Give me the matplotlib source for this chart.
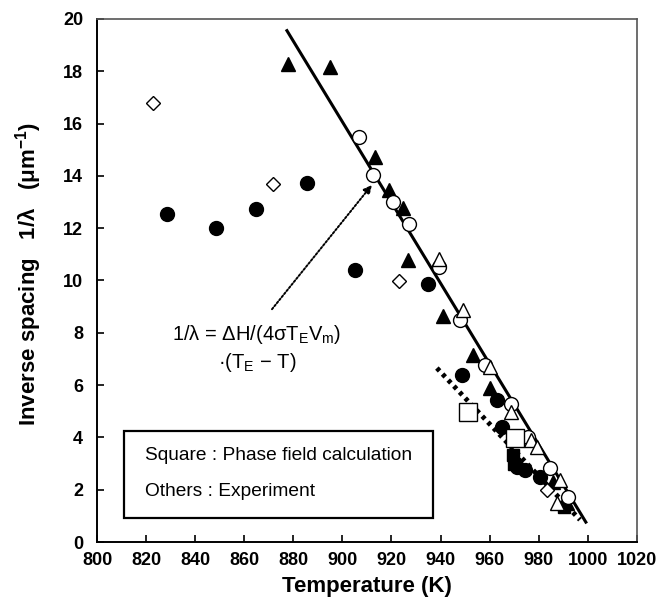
import matplotlib
matplotlib.use("Agg")
import matplotlib.pyplot as plt
from matplotlib.patches import Rectangle

plt.rcParams['font.family'] = ['Liberation Sans', 'DejaVu Sans']
plt.rcParams['mathtext.fontset'] = 'custom'
plt.rcParams['mathtext.rm'] = 'Liberation Sans'
plt.rcParams['mathtext.it'] = 'Liberation Sans'
plt.rcParams['mathtext.bf'] = 'Liberation Sans:bold'

# ---- data ----
filled_tri_T = [877.8, 894.9, 913.3, 919.1, 924.5, 926.8, 940.8, 953.3, 960.1, 986.0, 991.5]
filled_tri_v = [18.28, 18.16, 14.73, 13.46, 12.76, 10.80, 8.64, 7.15, 5.88, 2.30, 1.50]

open_circ_T = [906.7, 912.6, 920.7, 927.2, 939.3, 947.9, 958.1, 968.9, 975.7, 984.6, 992.0]
open_circ_v = [15.50, 14.03, 13.01, 12.15, 10.50, 8.49, 6.77, 5.28, 4.00, 2.82, 1.73]

filled_circ_T = [828.6, 848.5, 864.8, 885.7, 905.0, 935.0, 948.6, 962.8, 964.9, 971.0, 974.4, 980.5]
filled_circ_v = [12.53, 12.02, 12.72, 13.72, 10.40, 9.85, 6.39, 5.43, 4.39, 2.88, 2.75, 2.50]

open_diam_T = [822.7, 871.8, 923.0, 983.2]
open_diam_v = [16.80, 13.68, 9.99, 1.99]

open_tri_T = [939.3, 949.2, 960.1, 968.9, 977.0, 979.1, 988.6, 987.3]
open_tri_v = [10.81, 8.87, 6.70, 4.98, 3.90, 3.64, 2.37, 1.48]

filled_sq_T = [969.6, 970.0, 990.5]
filled_sq_v = [3.33, 3.00, 1.35]

open_sq_T = [951.3, 970.3]
open_sq_v = [4.98, 3.97]

fit_T = [877.4, 999.2]
fit_v = [19.55, 0.76]

calc_fit_T = [938.5, 996.8]
calc_fit_v = [6.65, 0.85]

arrow_start = (871.3, 8.9)
arrow_tip = (912.0, 13.65)

x_ticks = [800, 820, 840, 860, 880, 900, 920, 940, 960, 980, 1000, 1020]
y_ticks = [0, 2, 4, 6, 8, 10, 12, 14, 16, 18, 20]

# ---- figure ----
fig = plt.figure(figsize=(6.69, 6.09), dpi=100)
ax = fig.add_axes([0.145, 0.110, 0.807, 0.859])

ax.plot(fit_T, fit_v, color='black', lw=2.2, zorder=2)
ax.plot(calc_fit_T, calc_fit_v, color='black', lw=3.5, linestyle=(0, (0.8, 0.9)), zorder=2)

ms = 10
ax.plot(filled_circ_T, filled_circ_v, 'o', ms=ms, mfc='black', mec='black', ls='none', zorder=3)
ax.plot(filled_tri_T, filled_tri_v, '^', ms=ms, mfc='black', mec='black', ls='none', zorder=3)
ax.plot(filled_sq_T, filled_sq_v, 's', ms=9, mfc='black', mec='black', ls='none', zorder=3)
ax.plot(open_circ_T, open_circ_v, 'o', ms=ms, mfc='white', mec='black', mew=1.0, ls='none', zorder=4)
ax.plot(open_tri_T, open_tri_v, '^', ms=ms, mfc='white', mec='black', mew=1.0, ls='none', zorder=4)
ax.plot(open_diam_T, open_diam_v, 'D', ms=7.5, mfc='white', mec='black', mew=1.0, ls='none', zorder=4)
ax.plot(open_sq_T, open_sq_v, 's', ms=13, mfc='white', mec='black', mew=1.0, ls='none', zorder=5)

# arrow (dotted shaft + head)
ax.annotate('', xy=arrow_tip, xytext=arrow_start,
            arrowprops=dict(arrowstyle='-|>', color='black', lw=1.4,
                            linestyle=(0, (1, 1)), mutation_scale=12,
                            shrinkA=0, shrinkB=0))

ax.text(865.2, 7.4, "1/λ = ΔH/(4σT$_\\mathrm{E}$V$_\\mathrm{m}$)\n·(T$_\\mathrm{E}$ − T)",
        ha='center', va='center', fontsize=14.5, linespacing=1.3)

# box with text
ax.add_patch(Rectangle((811, 0.92), 936.9 - 811, 4.24 - 0.92, fill=False,
                       edgecolor='black', lw=1.6, zorder=1))
ax.text(819.6, 3.29, "Square : Phase field calculation", ha='left', va='center', fontsize=13.8)
ax.text(819.6, 1.95, "Others : Experiment", ha='left', va='center', fontsize=13.8)

ax.set_xlim(800, 1020)
ax.set_ylim(0, 20)
ax.set_xticks(x_ticks)
ax.set_yticks(y_ticks)
ax.tick_params(direction='in', length=5, width=1.2, labelsize=13)
ax.tick_params(axis='y', pad=10)
ax.tick_params(axis='x', pad=7)
for lab in ax.get_xticklabels() + ax.get_yticklabels():
    lab.set_fontweight('bold')

for s in ['left', 'bottom']:
    ax.spines[s].set_linewidth(1.4)
for s in ['top', 'right']:
    ax.spines[s].set_linewidth(1.2)
    ax.spines[s].set_color('#555555')

ax.set_xlabel("Temperature (K)", fontsize=16, fontweight='bold', labelpad=5)
ax.set_ylabel("Inverse spacing   1/λ   (μm$^{\\mathbf{-1}}$)", fontsize=16, fontweight='bold')
ax.yaxis.set_label_coords(-0.098, 0.512)

fig.savefig("out.png", dpi=100)
